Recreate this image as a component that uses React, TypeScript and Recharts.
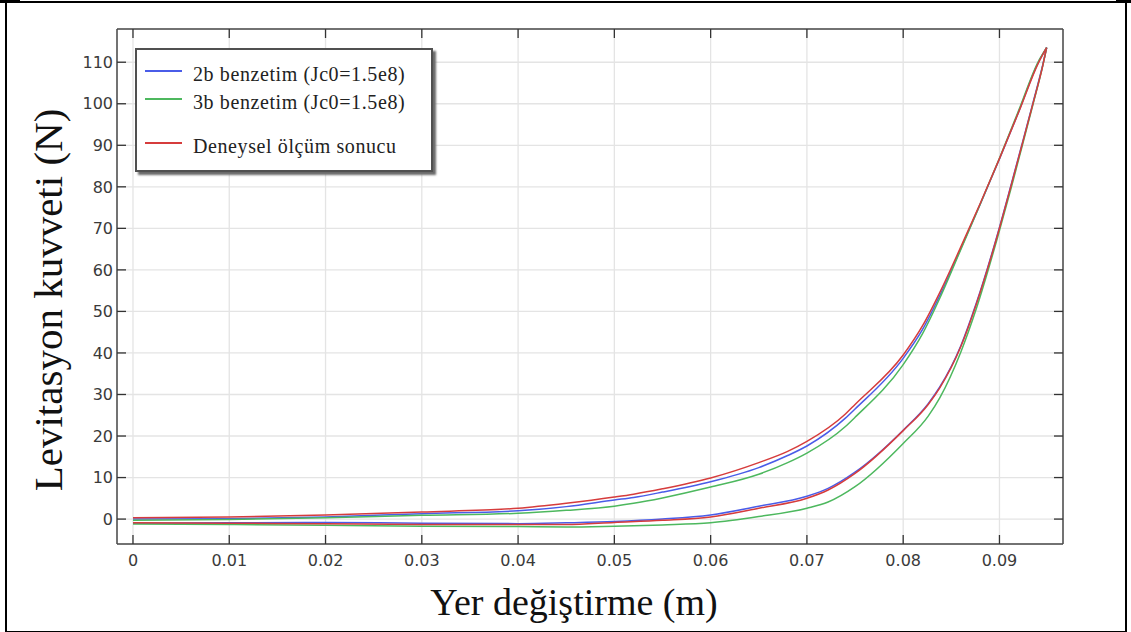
import React from "react";
import { LineChart, Line, XAxis, YAxis, CartesianGrid, Legend } from "recharts";

// displacement (m) for the outgoing (lower) branch
const xLower = [0, 0.01, 0.02, 0.03, 0.04, 0.045, 0.05, 0.055, 0.06, 0.065, 0.07, 0.0722, 0.075, 0.08, 0.0826, 0.0838, 0.086, 0.0876, 0.0898, 0.0912, 0.0923, 0.0935, 0.0945, 0.0949];
// displacement (m) for the return (upper) branch
const xUpper = [0, 0.01, 0.02, 0.03, 0.04, 0.045, 0.05, 0.052, 0.055, 0.06, 0.065, 0.068, 0.07, 0.074, 0.075, 0.08, 0.082, 0.084, 0.086, 0.088, 0.09, 0.092, 0.094, 0.0949];

// levitation force (N)
const blueLower = [-1.0, -0.9, -0.8, -1.0, -1.1, -0.9, -0.6, 0.0, 1.0, 3.1, 5.5, 7.4, 11.3, 21.4, 27.8, 31.8, 41.8, 52.0, 68.6, 80.4, 89.9, 100.4, 109.4, 113.5];
const blueUpper = [0, 0.1, 0.5, 1.3, 2.0, 3.0, 4.6, 5.2, 6.5, 9.0, 12.4, 15.3, 17.6, 24.3, 26.5, 38.7, 45.6, 54.8, 65.2, 75.8, 86.7, 98.1, 109.8, 113.5];
const greenLower = [-1.2, -1.3, -1.5, -1.7, -1.8, -1.9, -1.7, -1.4, -0.9, 0.6, 2.6, 4.1, 7.8, 18.2, 24.8, 29.2, 40.3, 50.7, 67.8, 79.6, 89.3, 100.0, 109.2, 113.5];
const greenUpper = [-0.3, -0.1, 0.3, 0.9, 1.4, 2.1, 3.1, 3.8, 5.1, 7.7, 10.8, 13.6, 15.9, 22.3, 24.5, 37.2, 44.6, 54.2, 65.0, 75.8, 86.9, 98.4, 110.0, 113.5];
const redLower = [-0.9, -1.0, -1.1, -1.3, -1.3, -1.3, -0.8, -0.3, 0.5, 2.6, 5.0, 7.0, 11.0, 21.3, 27.6, 31.6, 41.6, 51.8, 68.4, 80.2, 89.7, 100.2, 109.2, 113.5];
const redUpper = [0.3, 0.5, 1.0, 1.7, 2.6, 3.8, 5.3, 6.0, 7.3, 9.9, 13.6, 16.3, 18.7, 25.3, 27.6, 39.5, 46.5, 55.5, 65.6, 76.0, 86.8, 98.0, 109.6, 113.5];

const xTicks = [0, 0.01, 0.02, 0.03, 0.04, 0.05, 0.06, 0.07, 0.08, 0.09];
const yTicks = [0, 10, 20, 30, 40, 50, 60, 70, 80, 90, 100, 110];

const seriesNames = ["2b benzetim (Jc0=1.5e8)", "3b benzetim (Jc0=1.5e8)", "Deneysel ölçüm sonucu"];
const seriesColors = ["#4a5ce8", "#4db85e", "#d63c3c"];

const toPoints = (xs: number[], ys: number[]) => xs.map((x, i) => ({ x, y: ys[i] }));

const series = [
  { name: seriesNames[0], color: seriesColors[0], lower: toPoints(xLower, blueLower), upper: toPoints(xUpper, blueUpper) },
  { name: seriesNames[1], color: seriesColors[1], lower: toPoints(xLower, greenLower), upper: toPoints(xUpper, greenUpper) },
  { name: seriesNames[2], color: seriesColors[2], lower: toPoints(xLower, redLower), upper: toPoints(xUpper, redUpper) },
];

const serif = "'Liberation Serif', 'Times New Roman', serif";
const tickFont = { fill: "#3a3a3a", fontSize: 16, fontFamily: "'DejaVu Sans', sans-serif" };
const axisStroke = { stroke: "#4a4a4a", strokeWidth: 1.5 };

const legendRows = [21, 49, 93];

const renderLegend = () => (
  <div
    style={{
      boxSizing: "border-box",
      width: 298,
      height: 124,
      border: "2px solid #505050",
      boxShadow: "3px 3px 2px #6a6a6a",
      background: "#fff",
      position: "relative",
    }}
  >
    {series.map((s, i) => (
      <React.Fragment key={s.name}>
        <div style={{ position: "absolute", left: 8, top: legendRows[i] - 1, width: 37, height: 2, background: s.color }} />
        <div
          style={{
            position: "absolute",
            left: 56,
            top: legendRows[i] - 7,
            fontFamily: serif,
            fontSize: 20,
            lineHeight: "20px",
            letterSpacing: 0.6,
            color: "#222",
            whiteSpace: "nowrap",
          }}
        >
          {s.name}
        </div>
      </React.Fragment>
    ))}
  </div>
);

const xTitle = () => (
  <text x={574} y={615} textAnchor="middle" fontFamily={serif} fontSize={38} fill="#111">
    Yer değiştirme (m)
  </text>
);

const yTitle = () => (
  <text x={62} y={300} transform="rotate(-90 62 300)" textAnchor="middle" fontFamily={serif} fontSize={41} fill="#111">
    Levitasyon kuvveti (N)
  </text>
);

export default function App() {
  return (
    <div style={{ position: "absolute", left: 0, top: 0, width: 1131, height: 632, background: "#fff" }}>
      <div style={{ position: "absolute", left: 5, top: 1, width: 1122, height: 631, boxSizing: "border-box", border: "2px solid #000", borderBottomWidth: 1 }} />
      <div style={{ position: "absolute", left: 0, top: 0, width: 20, height: 3, background: "#000" }} />
      <div style={{ position: "absolute", left: 1116, top: 0, width: 15, height: 3, background: "#000" }} />
      <LineChart width={1131} height={632} margin={{ top: 19, right: 58, bottom: 58, left: 57 }}>
        <CartesianGrid stroke="#e4e4e4" strokeWidth={1.3} />
        <XAxis
          dataKey="x"
          type="number"
          domain={[-0.00166, 0.0966]}
          allowDataOverflow
          ticks={xTicks}
          height={30}
          tick={tickFont}
          tickFormatter={(v: number) => (v === 0 ? "0" : v.toFixed(2))}
          tickSize={-9}
          tickMargin={20}
          axisLine={axisStroke}
          tickLine={{ stroke: "#333", strokeWidth: 1.3 }}
          label={xTitle}
        />
        <XAxis
          xAxisId="top"
          orientation="top"
          dataKey="x"
          type="number"
          domain={[-0.00166, 0.0966]}
          allowDataOverflow
          ticks={xTicks}
          height={10}
          tickFormatter={() => ""}
          tickSize={-9}
          axisLine={axisStroke}
          tickLine={{ stroke: "#333", strokeWidth: 1.3 }}
        />
        <YAxis
          type="number"
          domain={[-6, 118]}
          allowDataOverflow
          ticks={yTicks}
          width={60}
          tick={tickFont}
          tickSize={-9}
          tickMargin={13}
          axisLine={axisStroke}
          tickLine={{ stroke: "#333", strokeWidth: 1.3 }}
          label={yTitle}
        />
        <YAxis
          yAxisId="right"
          orientation="right"
          type="number"
          domain={[-6, 118]}
          allowDataOverflow
          ticks={yTicks}
          width={10}
          tickFormatter={() => ""}
          tickSize={-9}
          axisLine={axisStroke}
          tickLine={{ stroke: "#333", strokeWidth: 1.3 }}
        />
        <Legend
          layout="horizontal"
          align="center"
          verticalAlign="middle"
          wrapperStyle={{ left: 135, top: 48, width: 298, height: 124 }}
          content={renderLegend}
        />
        {series.map((s) => (
          <Line
            key={s.name + "-lower"}
            data={s.lower}
            dataKey="y"
            name={s.name}
            type="monotone"
            stroke={s.color}
            strokeWidth={1.5}
            dot={false}
            isAnimationActive={false}
          />
        ))}
        {series.map((s) => (
          <Line
            key={s.name + "-upper"}
            data={s.upper}
            dataKey="y"
            name={s.name + " "}
            legendType="none"
            type="monotone"
            stroke={s.color}
            strokeWidth={1.5}
            dot={false}
            isAnimationActive={false}
          />
        ))}
      </LineChart>
    </div>
  );
}
